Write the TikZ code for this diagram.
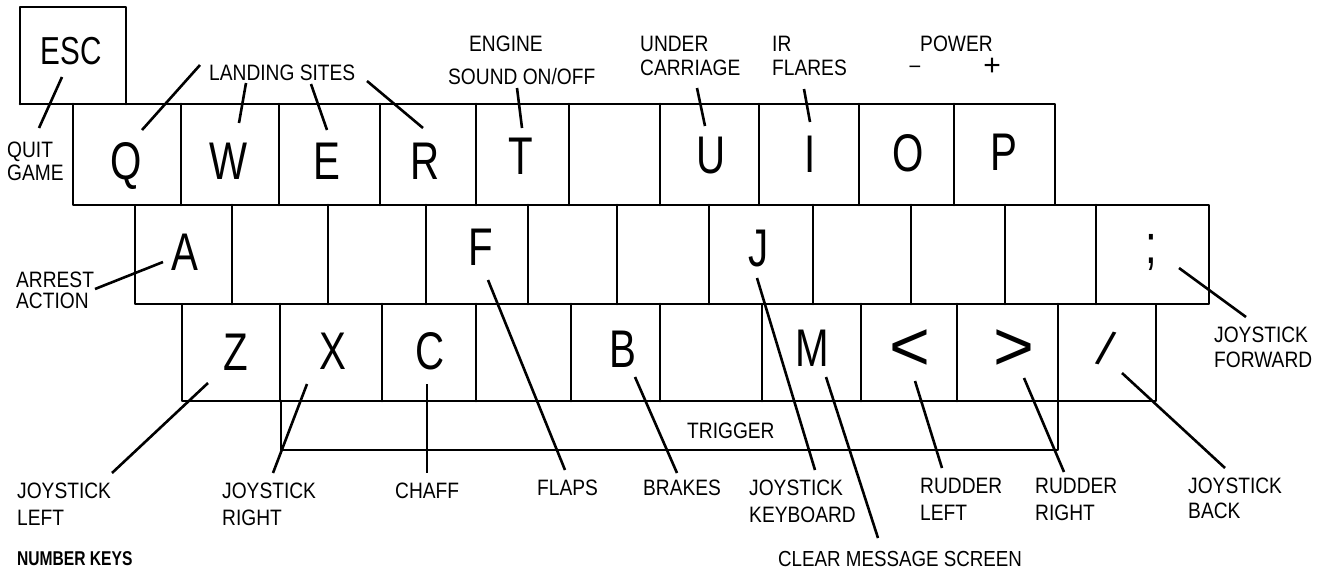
\documentclass[tikz,border=0pt]{standalone}
\usepackage{fontspec}
\setmainfont{Liberation Sans}[FakeStretch=0.86]
\newfontfamily\keyfont{Liberation Sans}[FakeStretch=0.76]
\newfontfamily\symfont{Liberation Sans}
\newfontfamily\nkfont{Liberation Sans}[FakeStretch=0.78]
\begin{document}
\begin{tikzpicture}[x=1pt,y=-1pt,
  kb/.style={line width=2.6pt, line cap=round, line join=round},
  lead/.style={line width=2.6pt},
  keylbl/.style={font=\keyfont\fontsize{53}{53}\selectfont, inner sep=0pt, text depth=0pt, anchor=center},
  esclbl/.style={font=\keyfont\fontsize{39}{39}\selectfont, inner sep=0pt, text depth=0pt, anchor=center},
  symlbl/.style={inner sep=0pt, anchor=center},
  lbl/.style={font=\fontsize{22.3}{26}\selectfont, inner sep=0pt, anchor=base west},
]
\useasboundingbox (0,0) rectangle (1333,571);
\clip (0,0) rectangle (1333,571);
\fill[white] (0,0) rectangle (1333,571);

% ESC key
\draw[kb] (20,104) -- (20,7) -- (126,7) -- (126,104);
% top row
\draw[kb] (20,104) -- (1055,104) -- (1055,205) -- (73,205) -- (73,104);
\foreach \x in {181,279,380,476,569,660,759,859,954} \draw[kb] (\x,104) -- (\x,205);
% middle row
\draw[kb] (135,205) -- (1209,205) -- (1209,304) -- (135,304) -- cycle;
\foreach \x in {232,328,426,528,617,709,813,911,1005,1096} \draw[kb] (\x,205) -- (\x,304);
% bottom row
\draw[kb] (182,304) -- (1156,304) -- (1156,401) -- (182,401) -- cycle;
\foreach \x in {280,382,476,571,660,762,861,957,1058} \draw[kb] (\x,304) -- (\x,401);
% trigger bar
\draw[kb] (281,401) -- (281,450) -- (1058,450) -- (1058,401);

% key letters
\node[esclbl] (kESC) at (71,51) {ESC};
\node[keylbl] (kQ) at (126,161) {Q};
\node[keylbl] (kW) at (229,161) {W};
\node[keylbl] (kE) at (327,161) {E};
\node[keylbl] (kR) at (425,161) {R};
\node[keylbl] (kT) at (521,156) {T};
\node[keylbl] (kU) at (711,155) {U};
\node[keylbl] (kI) at (810,154) {I};
\node[keylbl] (kO) at (908,153) {O};
\node[keylbl] (kP) at (1004,152) {P};
\node[keylbl] (kA) at (185,252) {A};
\node[keylbl] (kF) at (481,247) {F};
\node[keylbl] (kJ) at (759,248) {J};
\node[symlbl, font=\keyfont\fontsize{55}{55}\selectfont] (kSemi) at (1151,252) {;};
\node[keylbl] (kZ) at (236,352) {Z};
\node[keylbl] (kX) at (333,351) {X};
\node[keylbl] (kC) at (430,351) {C};
\node[keylbl] (kB) at (623,349) {B};
\node[keylbl] (kM) at (812,348) {M};
\node[symlbl, font=\symfont\fontsize{70}{70}\selectfont] (kLt) at (910,350) {<};
\node[symlbl, font=\symfont\fontsize{70}{70}\selectfont] (kGt) at (1014,350) {>};
\node[symlbl, font=\symfont\fontsize{48}{48}\selectfont] (kSl) at (1106,348) {\rotatebox{-14}{/}};

% labels
\node[lbl] (lQuit) at (7,157) {QUIT};
\node[lbl] (lGame) at (7,180) {GAME};
\node[lbl] (lLand) at (209,80) {LANDING SITES};
\node[lbl] (lEng) at (469,51) {ENGINE};
\node[lbl] (lSnd) at (448,84) {SOUND ON/OFF};
\node[lbl] (lUnd) at (640,51) {UNDER};
\node[lbl] (lCar) at (640,75) {CARRIAGE};
\node[lbl] (lIR) at (772,51) {IR};
\node[lbl] (lFla) at (772,75) {FLARES};
\node[lbl] (lPow) at (920,51) {POWER};
\node[symlbl, font=\fontsize{22.3}{26}\selectfont] (lMin) at (915,69) {–};
\node[symlbl, font=\symfont\fontsize{30}{30}\selectfont] (lPlus) at (992,67) {+};
\node[lbl] (lArr) at (16,287) {ARREST};
\node[lbl] (lAct) at (16,308) {ACTION};
\node[lbl] (lJF1) at (1214,342) {JOYSTICK};
\node[lbl] (lJF2) at (1214,367) {FORWARD};
\node[lbl] (lJL1) at (17,498) {JOYSTICK};
\node[lbl] (lJL2) at (17,525) {LEFT};
\node[lbl] (lJR1) at (222,498) {JOYSTICK};
\node[lbl] (lJR2) at (222,525) {RIGHT};
\node[lbl] (lCha) at (395,498) {CHAFF};
\node[lbl] (lFlp) at (537,495) {FLAPS};
\node[lbl] (lBrk) at (643,495) {BRAKES};
\node[lbl] (lJK1) at (749,495) {JOYSTICK};
\node[lbl] (lJK2) at (749,522) {KEYBOARD};
\node[lbl, font=\fontsize{21.8}{26}\selectfont] (lClr) at (778,566) {CLEAR MESSAGE SCREEN};
\node[lbl] (lRL1) at (920,493) {RUDDER};
\node[lbl] (lRL2) at (920,520) {LEFT};
\node[lbl] (lRR1) at (1035,493) {RUDDER};
\node[lbl] (lRR2) at (1035,520) {RIGHT};
\node[lbl] (lJB1) at (1188,493) {JOYSTICK};
\node[lbl] (lJB2) at (1188,518) {BACK};
\node[lbl] (lTrg) at (687,438) {TRIGGER};
\node[lbl, font=\nkfont\bfseries\fontsize{20}{20}\selectfont] (lNum) at (17,565) {NUMBER KEYS};

% connector end points
\coordinate (e1a) at (62,77);   \coordinate (e1b) at (39,128);
\coordinate (e2a) at (200,65);  \coordinate (e2b) at (142,130);
\coordinate (e3a) at (246,83);  \coordinate (e3b) at (239,123);
\coordinate (e4a) at (311,84);  \coordinate (e4b) at (327,130);
\coordinate (e5a) at (367,81);  \coordinate (e5b) at (423,128);
\coordinate (e6a) at (517,88);  \coordinate (e6b) at (522,128);
\coordinate (e7a) at (697,88);  \coordinate (e7b) at (705,126);
\coordinate (e8a) at (804,89);  \coordinate (e8b) at (810,122);
\coordinate (e9a) at (95,289);  \coordinate (e9b) at (163,262);
\coordinate (e10a) at (488,280); \coordinate (e10b) at (565,470);
\coordinate (e11a) at (757,278); \coordinate (e11b) at (815,470);
\coordinate (e12a) at (1179,268); \coordinate (e12b) at (1246,317);
\coordinate (e13a) at (208,383); \coordinate (e13b) at (112,473);
\coordinate (e14a) at (307,384); \coordinate (e14b) at (273,473);
\coordinate (e15a) at (427,384); \coordinate (e15b) at (427,473);
\coordinate (e16a) at (635,377); \coordinate (e16b) at (677,473);
\coordinate (e17a) at (826,377); \coordinate (e17b) at (878,538);
\coordinate (e18a) at (915,381); \coordinate (e18b) at (942,468);
\coordinate (e19a) at (1024,378); \coordinate (e19b) at (1064,472);
\coordinate (e20a) at (1122,373); \coordinate (e20b) at (1225,468);
\foreach \i in {1,...,20} \draw[lead] (e\i a) -- (e\i b);
\end{tikzpicture}
\end{document}
